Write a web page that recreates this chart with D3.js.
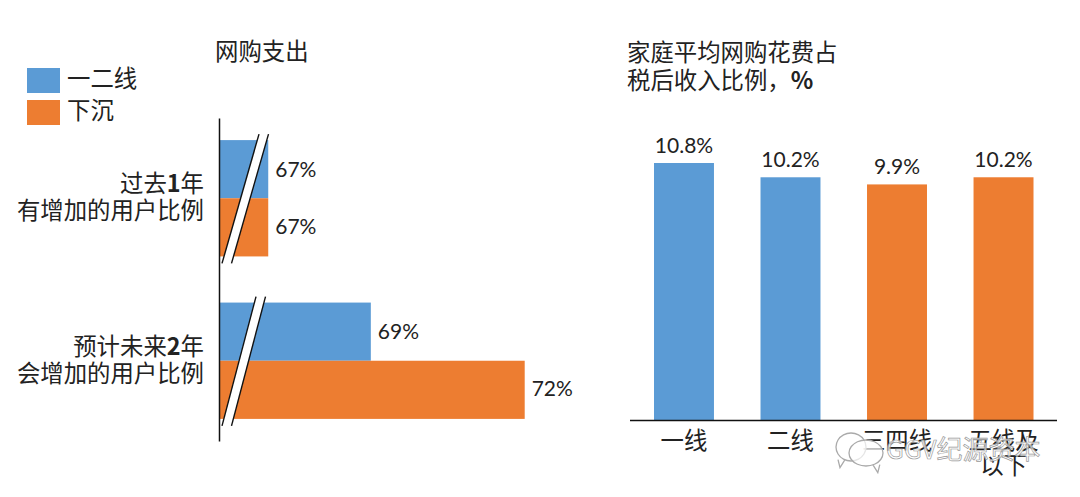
<!DOCTYPE html>
<html><head><meta charset="utf-8">
<script src="https://cdn.jsdelivr.net/npm/d3@7/dist/d3.min.js"></script>
<style>html,body{margin:0;background:#fff}svg{display:block}
text{font-family:"Noto Sans CJK SC",sans-serif;fill:#222}
.num{font-family:Lato,"Open Sans",sans-serif;font-size:21px}
.cjk{font-size:23.4px}</style></head><body>
<svg id="c" width="1080" height="497"></svg>
<script>
const seriesNames = ["一二线", "下沉"];
const spendGroups = [["过去1年", "有增加的用户比例"], ["预计未来2年", "会增加的用户比例"]];
const spendFirstTier = [67, 69];
const spendLowerTier = [67, 72];
const cityTiers = [["一线"], ["二线"], ["三四线"], ["五线及", "以下"]];
const incomeShare = [10.8, 10.2, 9.9, 10.2];
const incomeSeries = [0, 0, 1, 1];
const titleLeft = "网购支出";
const titleRight = ["家庭平均网购花费占", "税后收入比例，%"];
const watermark = "GGV纪源资本";

const colors = ["#5b9bd5", "#ed7d31"];
const svg = d3.select("#c");

/* legend */
seriesNames.forEach((n, i) => {
  const y = 68 + i * 32;
  svg.append("rect").attr("x", 27).attr("y", y).attr("width", 33).attr("height", 25).attr("fill", colors[i]);
  svg.append("text").attr("class", "cjk").attr("x", 67).attr("y", y + 10.5).attr("dy", ".36em").text(n);
});

/* titles */
svg.append("text").attr("class", "cjk").attr("x", 215).attr("y", 60).text(titleLeft);
titleRight.forEach((t, i) => {
  const row = svg.append("text").attr("class", "cjk").attr("x", 627).attr("y", 61 + i * 27.5);
  t.split(/(%)/).filter(Boolean).forEach(part => {
    const sp = row.append("tspan").text(part);
    if (part === "%") sp.attr("font-weight", 700);
  });
});

/* left chart */
const groupIdx = spendGroups.map((d, i) => i);
const xL = d3.scaleLinear().domain([66.04, 72]).range([219, 524.7]);
const yL = d3.scaleBand().domain(groupIdx).range([118, 441]).paddingInner(0.284).paddingOuter(0.136);
const ySub = d3.scaleBand().domain([0, 1]).range([0, yL.bandwidth()]);
const leftVals = [spendFirstTier, spendLowerTier];

const gL = svg.append("g");
leftVals.forEach((vals, s) => {
  gL.selectAll(null).data(vals).join("rect")
    .attr("x", xL.range()[0])
    .attr("y", (d, i) => yL(i) + ySub(s))
    .attr("width", d => xL(d) - xL.range()[0])
    .attr("height", ySub.bandwidth())
    .attr("fill", colors[s]);
  gL.selectAll(null).data(vals).join("text")
    .attr("class", "num")
    .attr("x", d => xL(d) + 7)
    .attr("y", (d, i) => yL(i) + ySub(s) + ySub.bandwidth() / 2 - (s ? 1 : 0))
    .attr("dy", ".36em")
    .text(d => d + "%");
});

/* axis break marks */
groupIdx.forEach(i => {
  const top = yL(i) - 6, bot = yL(i) + yL.bandwidth() + 7;
  const x0 = xL.range()[0];
  const slant = i === 0 ? 37 : 34;
  const w = 9.5;
  gL.append("polygon")
    .attr("points", [[x0 + 3, bot], [x0 + 3 + slant, top], [x0 + 3 + slant + w, top], [x0 + 3 + w, bot]].join(" "))
    .attr("fill", "#fff");
  [0, w].forEach(o => gL.append("line")
    .attr("x1", x0 + 3 + o).attr("y1", bot)
    .attr("x2", x0 + 3 + slant + o).attr("y2", top)
    .attr("stroke", "#111").attr("stroke-width", 1.4));
});

const axL = svg.append("g").attr("transform", `translate(${xL.range()[0]},0)`)
  .call(d3.axisLeft(yL).tickSize(0).tickPadding(15).tickFormat(""));
axL.select(".domain").attr("stroke", "#111").attr("stroke-width", 1.5);
axL.selectAll(".tick text").each(function (d) {
  const t = d3.select(this).attr("dy", null).attr("y", 0).attr("text-anchor", "end").attr("style", "font-size:23.4px");
  spendGroups[d].forEach((line, k) => {
    const row = t.append("tspan").attr("x", -15).attr("y", (k === 0 ? -14 : 13) + 8);
    line.split(/(\d+)/).filter(Boolean).forEach(part => {
      const sp = row.append("tspan").text(part);
      if (/\d/.test(part)) sp.attr("font-weight", 700);
    });
  });
});

/* right chart */
const tierIdx = cityTiers.map((d, i) => i);
const xR = d3.scaleBand().domain(tierIdx).range([654, 1033.5]).paddingInner(0.437).paddingOuter(0);
const yR = d3.scaleLinear().domain([0, 10.8]).range([420, 163]);

svg.append("g").selectAll("rect").data(incomeShare).join("rect")
  .attr("x", (d, i) => xR(i)).attr("y", d => yR(d))
  .attr("width", xR.bandwidth()).attr("height", d => yR(0) - yR(d))
  .attr("fill", (d, i) => colors[incomeSeries[i]]);
svg.append("g").selectAll("text").data(incomeShare).join("text")
  .attr("class", "num").attr("text-anchor", "middle")
  .attr("x", (d, i) => xR(i) + xR.bandwidth() / 2)
  .attr("y", d => yR(d) - 10)
  .text(d => d.toFixed(1) + "%");

const axR = svg.append("g").attr("transform", `translate(0,${yR(0)})`)
  .call(d3.axisBottom(xR).tickSize(0).tickFormat(""));
axR.select(".domain").attr("d", `M630,0.5H1057`).attr("stroke", "#111").attr("stroke-width", 1.5);
axR.selectAll(".tick text").each(function (d) {
  const t = d3.select(this).attr("dy", null).attr("y", 0).attr("style", "font-size:23.4px");
  cityTiers[d].forEach((line, k) => t.append("tspan").attr("x", 0).attr("y", 29 + k * 25).text(line));
});

/* watermark */
const wm = svg.append("g");
const bubble = (cx, cy, rx, ry, tail) => {
  wm.append("path")
    .attr("d", d3.line().curve(d3.curveCardinalClosed.tension(0.2))(
      d3.range(0, 2 * Math.PI, Math.PI / 6).map(a => [cx + rx * Math.cos(a), cy + ry * Math.sin(a)])) +
      `M${cx + tail * rx * 0.4},${cy + ry * 0.9}l${tail * 5},8l${tail * 2},-8`)
    .attr("fill", "rgba(255,255,255,.7)").attr("stroke", "#aaa").attr("stroke-width", 1.3);
};
bubble(851, 447, 15, 14, -1);
bubble(866, 453, 17, 13, 1);
wm.append("text").attr("x", 886).attr("y", 459).attr("style", "font-size:26px;fill:rgba(255,255,255,.7);stroke:#999;stroke-width:.7").text(watermark);
</script></body></html>
